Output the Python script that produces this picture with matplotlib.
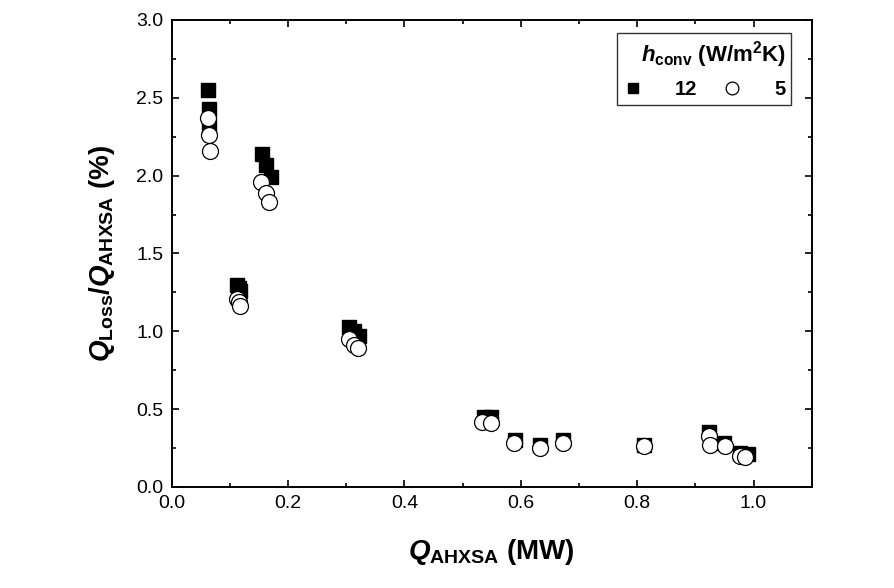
import numpy as np
import matplotlib as mpl
import matplotlib.pyplot as plt
from matplotlib.ticker import MultipleLocator

plt.rc('font', family='Liberation Sans', size=14)
mpl.rcParams['mathtext.fontset'] = 'custom'
mpl.rcParams['mathtext.it'] = 'Liberation Sans:italic:bold'
mpl.rcParams['mathtext.rm'] = 'Liberation Sans:bold'
mpl.rcParams['mathtext.bf'] = 'Liberation Sans:bold'

# h_conv = 12 W/m2K
x12 = [0.063, 0.064, 0.065, 0.156, 0.162, 0.170, 0.113, 0.115, 0.117,
       0.304, 0.314, 0.322, 0.536, 0.548, 0.590, 0.633, 0.673, 0.812,
       0.923, 0.950, 0.976, 0.990]
y12 = [2.55, 2.43, 2.32, 2.14, 2.07, 1.99, 1.30, 1.28, 1.26,
       1.03, 1.00, 0.97, 0.45, 0.45, 0.30, 0.27, 0.30, 0.27,
       0.35, 0.28, 0.22, 0.21]

# h_conv = 5 W/m2K
x5 = [0.062, 0.064, 0.066, 0.154, 0.162, 0.168, 0.113, 0.115, 0.118,
      0.304, 0.313, 0.321, 0.534, 0.549, 0.589, 0.633, 0.673, 0.812,
      0.923, 0.926, 0.951, 0.976, 0.986]
y5 = [2.37, 2.26, 2.16, 1.96, 1.89, 1.83, 1.21, 1.19, 1.16,
      0.95, 0.91, 0.89, 0.42, 0.41, 0.28, 0.25, 0.28, 0.26,
      0.33, 0.27, 0.26, 0.20, 0.19]

fig = plt.figure(figsize=(8.94, 5.88), dpi=100)
ax = fig.add_axes([0.192, 0.172, 0.716, 0.794])

ax.plot(x12, y12, 's', color='k', markersize=9.5, linestyle='none', label='12')
ax.plot(x5, y5, 'o', markerfacecolor='white', markeredgecolor='k',
        markeredgewidth=0.9, markersize=11.5, linestyle='none', label='5')

ax.set_xlim(0, 1.1)
ax.set_ylim(0, 3.0)
ax.xaxis.set_major_locator(MultipleLocator(0.2))
ax.xaxis.set_minor_locator(MultipleLocator(0.1))
ax.yaxis.set_major_locator(MultipleLocator(0.5))
ax.yaxis.set_minor_locator(MultipleLocator(0.25))
ax.tick_params(which='both', direction='in', top=True, right=True, width=1.2)
ax.tick_params(which='major', length=5, labelsize=14, pad=6)
ax.tick_params(which='minor', length=3)
for s in ax.spines.values():
    s.set_linewidth(1.4)

ax.set_xlabel(r'$Q_{\mathrm{AHXSA}}$ (MW)', fontsize=20, fontweight='bold', labelpad=18)
ax.set_ylabel(r'$Q_{\mathrm{Loss}}$/$Q_{\mathrm{AHXSA}}$ (%)', fontsize=20,
              fontweight='bold', labelpad=14)

leg = ax.legend(loc='upper right', bbox_to_anchor=(0.984, 0.993), ncol=2,
                frameon=True, fancybox=False, edgecolor='k',
                title=r'$h_{\mathrm{conv}}$ (W/m$^{\mathrm{2}}$K)',
                prop={'weight': 'bold', 'size': 14.5},
                title_fontproperties={'weight': 'bold', 'size': 16},
                handletextpad=1.6, columnspacing=1.2, handlelength=1.0,
                borderpad=0.3, markerscale=0.8)
leg.get_frame().set_linewidth(1.0)
leg._legend_box.align = 'right'

fig.savefig('out.png', dpi=100)
